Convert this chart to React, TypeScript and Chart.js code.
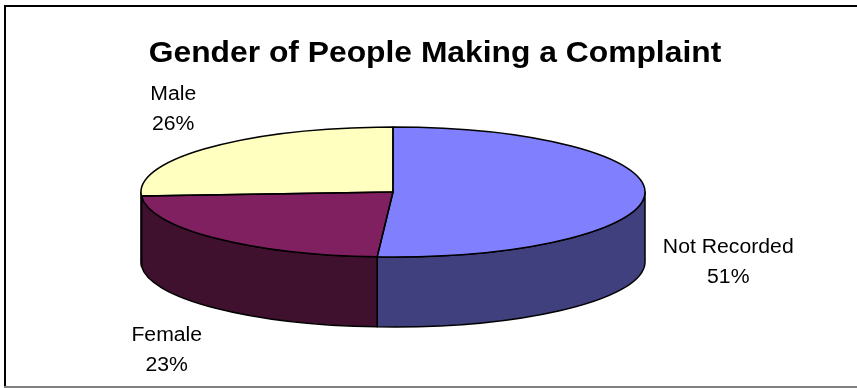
import React, { useEffect, useRef } from "react";
import { Chart, registerables } from "chart.js";

Chart.register(...registerables);

const chartTitle = "Gender of People Making a Complaint";
const categories = ["Not Recorded", "Female", "Male"];
const values = [51, 23, 26];
const topColors = ["#8080FF", "#802060", "#FFFFC0"];
const sideColors = ["#40407F", "#40102F", "#808060"];

const FONT = '"Liberation Sans", Arial, sans-serif';
const TEXT_SX = 1.06;
const PIE_RADIUS = 252;
const TILT = 65 / 252;
const DEPTH = 70;

function drawText(ctx: CanvasRenderingContext2D, text: string, x: number, y: number, font: string) {
  ctx.save();
  ctx.font = font;
  ctx.fillStyle = "#000";
  ctx.textAlign = "center";
  ctx.textBaseline = "alphabetic";
  ctx.translate(x, y);
  ctx.scale(TEXT_SX, 1);
  ctx.fillText(text, 0, 0);
  ctx.restore();
}

const pie3d = {
  id: "pie3d",
  beforeDraw(chart: any) {
    const ctx = chart.ctx as CanvasRenderingContext2D;
    const w = chart.width, h = chart.height;
    ctx.save();
    ctx.fillStyle = "#ffffff";
    ctx.fillRect(0, 0, w, h);
    ctx.fillStyle = "#000";
    ctx.fillRect(4, 5, w - 4, 2);
    ctx.fillRect(4, 5, 2, h - 5);
    ctx.fillStyle = "#808080";
    ctx.fillRect(4, h - 2, w - 4, 2);
    ctx.restore();
  },
  beforeDatasetsDraw(chart: any) {
    const ctx = chart.ctx as CanvasRenderingContext2D;
    const arcs = chart.getDatasetMeta(0).data as any[];
    ctx.save();
    if (!arcs.length) return;
    const cx = arcs[0].x, cy = arcs[0].y, r = arcs[0].outerRadius;
    const ry = r * TILT;
    ctx.lineWidth = 1.5;
    ctx.strokeStyle = "#000";
    ctx.lineJoin = "round";
    arcs.forEach((arc, i) => {
      const lo = Math.max(arc.startAngle, 0);
      const hi = Math.min(arc.endAngle, Math.PI);
      if (hi <= lo) return;
      ctx.beginPath();
      ctx.ellipse(cx, cy, r, ry, 0, lo, hi, false);
      ctx.lineTo(cx + r * Math.cos(hi), cy + DEPTH + ry * Math.sin(hi));
      ctx.ellipse(cx, cy + DEPTH, r, ry, 0, hi, lo, true);
      ctx.closePath();
      ctx.fillStyle = sideColors[i];
      ctx.fill();
      ctx.stroke();
    });
    ctx.translate(cx, cy);
    ctx.scale(1, TILT);
    ctx.translate(-cx, -cy);
  },
  afterDatasetsDraw(chart: any) {
    const ctx = chart.ctx as CanvasRenderingContext2D;
    ctx.restore();
    const arcs = chart.getDatasetMeta(0).data as any[];
    if (!arcs.length) return;
    const cx = arcs[0].x, cy = arcs[0].y, r = arcs[0].outerRadius;
    const ry = r * TILT;
    ctx.save();
    ctx.lineWidth = 1.5;
    ctx.strokeStyle = "#000";
    ctx.lineJoin = "round";
    arcs.forEach((arc) => {
      ctx.beginPath();
      ctx.moveTo(cx, cy);
      ctx.ellipse(cx, cy, r, ry, 0, arc.startAngle, arc.endAngle, false);
      ctx.closePath();
      ctx.stroke();
    });
    ctx.restore();

    // data labels
    const total = values.reduce((a, b) => a + b, 0);
    const fontSize = 20;
    const font = `${fontSize}px ${FONT}`;
    const lineH = 30;
    arcs.forEach((arc, i) => {
      const m = (arc.startAngle + arc.endAngle) / 2;
      const lines = [categories[i], Math.round((values[i] / total) * 100) + "%"];
      ctx.save();
      ctx.font = font;
      const bw = Math.max(...lines.map((t) => ctx.measureText(t).width)) * TEXT_SX;
      ctx.restore();
      const ax = cx + (r + 18) * Math.cos(m);
      const ay = cy + DEPTH / 2 + ry * 2 * Math.sin(m);
      const c = Math.cos(m), s = Math.sin(m);
      let left = ax - bw / 2;
      if (c > 0.3) left = ax;
      else if (c < -0.3) left = ax - bw;
      const boxH = lineH * lines.length;
      const top = s < -0.3 ? ay - boxH : ay;
      lines.forEach((t, k) => {
        const centerY = top + lineH / 2 + k * lineH;
        drawText(ctx, t, left + bw / 2, centerY + fontSize * 0.36, font);
      });
    });

    drawText(ctx, chartTitle, 435, 62, `bold 30px ${FONT}`);
  },
};

export default function App() {
  const ref = useRef<HTMLCanvasElement | null>(null);
  useEffect(() => {
    document.body.style.margin = "0";
    const canvas = ref.current;
    if (!canvas) return;
    const chart = new Chart(canvas, {
      type: "pie",
      data: {
        labels: categories,
        datasets: [
          {
            data: values,
            backgroundColor: topColors,
            borderWidth: 0,
            clip: false,
          } as any,
        ],
      },
      options: {
        responsive: false,
        animation: false,
        events: [],
        radius: PIE_RADIUS,
        layout: { padding: { left: 0, right: 71, top: 0, bottom: 4 } },
        plugins: {
          legend: { display: false },
          tooltip: { enabled: false },
          title: { display: false },
        },
      } as any,
      plugins: [pie3d],
    });
    return () => chart.destroy();
  }, []);
  return <canvas ref={ref} width={857} height={388} style={{ display: "block" }} />;
}
